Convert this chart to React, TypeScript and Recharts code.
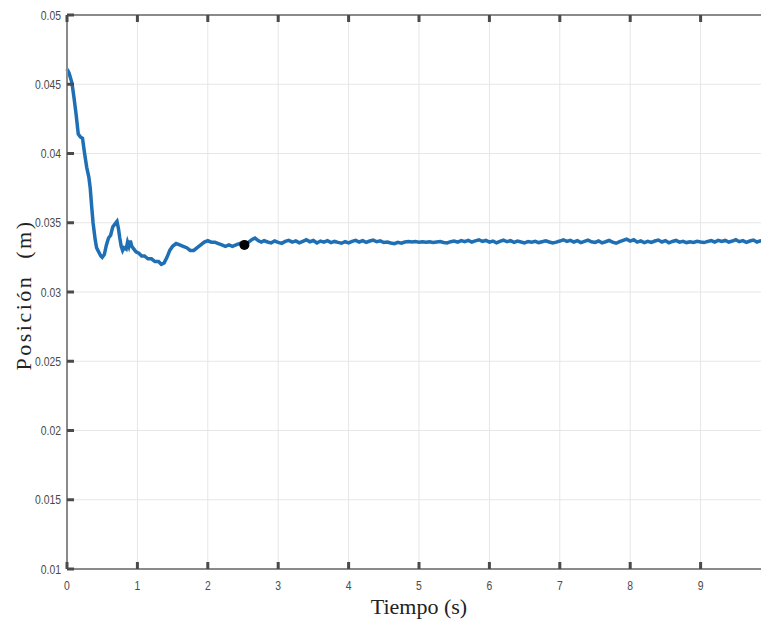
import { LineChart, Line, XAxis, YAxis, CartesianGrid, ReferenceDot } from 'recharts'

// transient part
const earlyTime = [
  0, 0.03, 0.07, 0.1, 0.13, 0.16, 0.19, 0.22, 0.25, 0.28, 0.31, 0.33, 0.35, 0.37, 0.4, 0.42, 0.45, 0.48, 0.5,
  0.53, 0.56, 0.59, 0.62, 0.65, 0.68, 0.71, 0.73, 0.75, 0.77, 0.79, 0.81, 0.84, 0.86, 0.88, 0.9, 0.92, 0.95,
  0.98, 1.02, 1.06, 1.1, 1.15, 1.2, 1.25, 1.3, 1.34, 1.38, 1.42, 1.46, 1.5, 1.55, 1.6, 1.65, 1.7, 1.75, 1.8,
  1.85, 1.9, 1.95, 2, 2.05, 2.1, 2.15, 2.2, 2.25, 2.3, 2.35, 2.4, 2.45, 2.52, 2.58, 2.63, 2.67, 2.72, 2.76, 2.8,
]
const earlyPos = [
  0.0461, 0.0458, 0.0451, 0.044, 0.0428, 0.0414, 0.0412, 0.0411, 0.04, 0.039, 0.0383, 0.0375, 0.0362, 0.035,
  0.0338, 0.0332, 0.0329, 0.0326, 0.0325, 0.0327, 0.0334, 0.0339, 0.0341, 0.0347, 0.0349, 0.0351, 0.0346,
  0.0339, 0.0333, 0.033, 0.0332, 0.0331, 0.0336, 0.0333, 0.0337, 0.0333, 0.0331, 0.0329, 0.0328, 0.0326,
  0.0326, 0.0324, 0.0324, 0.0322, 0.0322, 0.032, 0.0321, 0.0325, 0.033, 0.0333, 0.0335, 0.0334, 0.0333,
  0.0332, 0.033, 0.033, 0.0332, 0.0334, 0.0336, 0.0337, 0.0336, 0.0336, 0.0335, 0.0334, 0.0333, 0.0334,
  0.0333, 0.0334, 0.0335, 0.0334, 0.0336, 0.0338, 0.0339, 0.0337, 0.0336, 0.0337,
]

// steady state with sensor noise
const tailTime = [
  2.85, 2.9, 2.95, 3, 3.05, 3.1, 3.15, 3.2, 3.25, 3.3, 3.35, 3.4, 3.45, 3.5, 3.55, 3.6, 3.65, 3.7, 3.75, 3.8,
  3.85, 3.9, 3.95, 4, 4.05, 4.1, 4.15, 4.2, 4.25, 4.3, 4.35, 4.4, 4.45, 4.5, 4.55, 4.6, 4.65, 4.7, 4.75, 4.8,
  4.85, 4.9, 4.95, 5, 5.05, 5.1, 5.15, 5.2, 5.25, 5.3, 5.35, 5.4, 5.45, 5.5, 5.55, 5.6, 5.65, 5.7, 5.75, 5.8,
  5.85, 5.9, 5.95, 6, 6.05, 6.1, 6.15, 6.2, 6.25, 6.3, 6.35, 6.4, 6.45, 6.5, 6.55, 6.6, 6.65, 6.7, 6.75, 6.8,
  6.85, 6.9, 6.95, 7, 7.05, 7.1, 7.15, 7.2, 7.25, 7.3, 7.35, 7.4, 7.45, 7.5, 7.55, 7.6, 7.65, 7.7, 7.75, 7.8,
  7.85, 7.9, 7.95, 8, 8.05, 8.1, 8.15, 8.2, 8.25, 8.3, 8.35, 8.4, 8.45, 8.5, 8.55, 8.6, 8.65, 8.7, 8.75, 8.8,
  8.85, 8.9, 8.95, 9, 9.05, 9.1, 9.15, 9.2, 9.25, 9.3, 9.35, 9.4, 9.45, 9.5, 9.55, 9.6, 9.65, 9.7, 9.75, 9.8,
  9.85, 9.9,
]
const tailPos = [
  0.03361, 0.03355, 0.03368, 0.03358, 0.03351, 0.03365, 0.03373, 0.0336, 0.03369, 0.03355,
  0.03366, 0.03377, 0.03363, 0.03372, 0.03354, 0.03368, 0.0336, 0.03371, 0.03357, 0.03365,
  0.03358, 0.03352, 0.03363, 0.03355, 0.03366, 0.03373, 0.03361, 0.03371, 0.03358, 0.03368,
  0.03375, 0.03363, 0.03369, 0.03357, 0.03361, 0.03354, 0.03349, 0.03358, 0.03352, 0.03361,
  0.03365, 0.03361, 0.03364, 0.0336, 0.03363, 0.03359, 0.03362, 0.03358, 0.03361, 0.03364,
  0.03358, 0.03354, 0.03363, 0.03368, 0.0336, 0.03371, 0.03363, 0.03373, 0.03361, 0.03369,
  0.03377, 0.03365, 0.03372, 0.0336, 0.03368, 0.03355, 0.03366, 0.03375, 0.03363, 0.03371,
  0.03358, 0.03368, 0.03361, 0.03355, 0.03365, 0.0336, 0.03366, 0.03357, 0.03363, 0.03369,
  0.03361, 0.03354, 0.0336, 0.03368, 0.03377, 0.03365, 0.03373, 0.03361, 0.03371, 0.03357,
  0.03366, 0.03375, 0.03363, 0.03358, 0.03368, 0.03355, 0.03363, 0.03372, 0.0336, 0.03352,
  0.03363, 0.03373, 0.03381, 0.03368, 0.03377, 0.0336, 0.03369, 0.03357, 0.03366, 0.03358,
  0.03368, 0.03375, 0.03361, 0.03371, 0.03355, 0.03365, 0.03372, 0.0336, 0.03366, 0.03357,
  0.03363, 0.03358, 0.03366, 0.03361, 0.03357, 0.03365, 0.03371, 0.03361, 0.03373, 0.03365,
  0.03372, 0.0336, 0.03368, 0.03377, 0.03363, 0.03371, 0.03358, 0.03368, 0.03375, 0.03361,
  0.03369, 0.03363,
]

const xTicks = [0, 1, 2, 3, 4, 5, 6, 7, 8, 9]
const yTicks = [0.01, 0.015, 0.02, 0.025, 0.03, 0.035, 0.04, 0.045, 0.05]

// black marker on the curve
const markerTime = 2.52
const markerPos = 0.0334

const time = [...earlyTime, ...tailTime]
const position = [...earlyPos, ...tailPos]
const chartData = time.map((t, i) => ({ t, pos: position[i] }))

const sansFont = '"Liberation Sans", Arial, sans-serif'
const serif = '"Liberation Serif", "Times New Roman", serif'

const TICK_LEN = 6
const MARK_LEN = 7
const MARK_W = 3
const tickColor = '#4a4a4a'
const axisStyle = { stroke: '#8a8a8a', strokeWidth: 2 }

// matlab-ish inward tick marks, wide enough to show past the grid lines
const BottomTick = (props: any) => {
  const { x, y, payload } = props
  const axisY = y - TICK_LEN - 6
  return (
    <g>
      <line x1={x} x2={x} y1={axisY} y2={axisY - MARK_LEN} stroke={tickColor} strokeWidth={MARK_W} />
      <text
        transform={`translate(${x},${y}) scale(0.8,1)`}
        textAnchor="middle"
        dy="0.71em"
        fontFamily={sansFont}
        fontSize={13}
        fill="#4a4a4a"
      >
        {payload.value}
      </text>
    </g>
  )
}

const TopTick = (props: any) => {
  const { x, y } = props
  const axisY = y + TICK_LEN + 2
  return <line x1={x} x2={x} y1={axisY} y2={axisY + MARK_LEN} stroke={tickColor} strokeWidth={MARK_W} />
}

const LeftTick = (props: any) => {
  const { x, y, payload } = props
  const axisX = x + TICK_LEN
  return (
    <g>
      <line x1={axisX} x2={axisX + MARK_LEN} y1={y} y2={y} stroke={tickColor} strokeWidth={MARK_W} />
      <text
        transform={`translate(${x},${y}) scale(0.8,1)`}
        textAnchor="end"
        dy="0.355em"
        fontFamily={sansFont}
        fontSize={13}
        fill="#4a4a4a"
      >
        {payload.value}
      </text>
    </g>
  )
}

export default function App() {
  return (
    <div style={{ position: 'absolute', left: 0, top: 0, width: 761, height: 629, overflow: 'hidden', background: '#fff' }}>
      <LineChart width={775} height={629} data={chartData} margin={{ top: 0, right: 4, bottom: 0, left: 0 }}>
        <CartesianGrid stroke="#e6e6e6" strokeWidth={1} />
        <YAxis
          type="number"
          domain={[0.01, 0.05]}
          ticks={yTicks}
          interval={0}
          width={67}
          tickSize={TICK_LEN}
          tickMargin={0}
          tick={<LeftTick />}
          tickLine={false}
          axisLine={axisStyle}
        />
        <XAxis
          dataKey="t"
          type="number"
          domain={[0, 10]}
          ticks={xTicks}
          interval={0}
          height={60}
          tickSize={TICK_LEN}
          tickMargin={6}
          tick={<BottomTick />}
          tickLine={false}
          axisLine={axisStyle}
        />
        <XAxis
          xAxisId="top"
          dataKey="t"
          orientation="top"
          type="number"
          domain={[0, 10]}
          allowDataOverflow
          ticks={xTicks}
          interval={0}
          height={15}
          tickSize={TICK_LEN}
          tickMargin={2}
          tick={<TopTick />}
          tickLine={false}
          axisLine={axisStyle}
        />
        <Line
          type="linear"
          dataKey="pos"
          stroke="#1f6fb5"
          strokeWidth={3.5}
          dot={false}
          isAnimationActive={false}
        />
        <ReferenceDot x={markerTime} y={markerPos} r={5} fill="#000" stroke="none" />
      </LineChart>
      <div
        style={{
          position: 'absolute',
          left: 419 - 100,
          top: 596,
          width: 200,
          textAlign: 'center',
          fontFamily: serif,
          fontSize: 22,
          lineHeight: '22px',
          color: '#222',
        }}
      >
        Tiempo (s)
      </div>
      <div
        style={{
          position: 'absolute',
          left: 24 - 100,
          top: 295 - 12,
          width: 200,
          height: 24,
          lineHeight: '24px',
          textAlign: 'center',
          fontFamily: serif,
          fontSize: 22,
          letterSpacing: 2.5,
          color: '#222',
          transform: 'rotate(-90deg)',
          whiteSpace: 'pre',
        }}
      >
        Posición  (m)
      </div>
    </div>
  )
}
